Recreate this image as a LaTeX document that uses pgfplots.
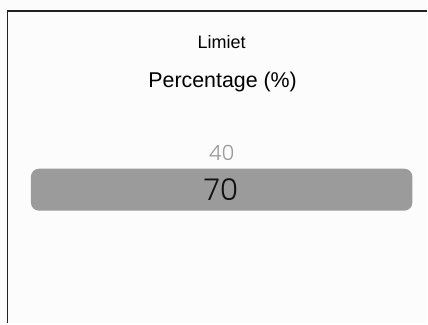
\documentclass[border=0pt]{standalone}
\usepackage{pgfplots}
\pgfplotsset{compat=1.18}
\usepackage{fontspec}
\setmainfont{Liberation Sans}
\newfontfamily\numfont{Poppins Light}
\definecolor{bg}{HTML}{FCFCFC}
\definecolor{barc}{HTML}{9B9B9B}
\definecolor{linec}{HTML}{222222}
\definecolor{faint}{HTML}{9A9A9A}
\definecolor{txt}{HTML}{111111}
\begin{document}
\begin{tikzpicture}
\begin{axis}[
  scale only axis, width=428bp, height=324bp,
  xmin=0, xmax=428, ymin=0, ymax=324, y dir=reverse,
  hide axis, clip=false,
]
% background
\addplot[fill=bg, draw=none] coordinates {(0,0) (428,0) (428,324) (0,324)} -- cycle;
% selected bar
\addplot[fill=barc, draw=none, rounded corners=8bp] coordinates {(31,169) (413,169) (413,211) (31,211)} -- cycle;
% frame lines
\addplot[linec, line width=1.4bp] coordinates {(7.7,324) (7.7,11) (428,11)};
\node[anchor=base, font=\fontsize{18bp}{20bp}\selectfont, text=black] at (axis cs:222,48.3) {Limiet};
\node[anchor=base, font=\fontsize{21.4bp}{24bp}\selectfont, text=black] at (axis cs:223,88) {Percentage (\%)};
\node[anchor=base, font=\numfont\fontsize{21bp}{24bp}\selectfont, text=faint] at (axis cs:222,161) {40};
\node[anchor=base, font=\numfont\fontsize{30bp}{34bp}\selectfont, text=txt] at (axis cs:221.5,201) {70};
\end{axis}
\end{tikzpicture}
\end{document}
